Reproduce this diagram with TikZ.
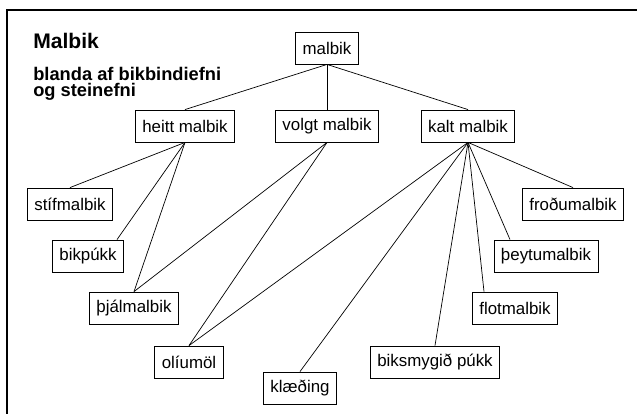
\documentclass[tikz,border=0pt]{standalone}
\usepackage{fontspec}
\setmainfont{Liberation Sans}
\usetikzlibrary{calc}
\tikzset{
  box/.style={draw, line width=0.6pt, minimum height=0.8cm, inner xsep=5pt, font=\fontsize{12}{14}\selectfont},
  link/.style={line width=0.5pt}
}
\begin{document}
\begin{tikzpicture}[x=0.025cm, y=-0.025cm]
  \useasboundingbox (0,0) rectangle (637,414);
  % Frame
  \draw[line width=1.2pt] (637,10) -- (7,10) -- (7,414);

  % Title
  \node[anchor=base west, inner sep=0pt, font=\bfseries\fontsize{15}{17}\selectfont] (title) at (33,48) {Malbik};
  \node[anchor=north west, inner sep=0pt, align=left, font=\bfseries\fontsize{13}{11.5}\selectfont] (subtitle) at (33,67) {blanda af bikbindiefni\\og steinefni};

  % Tree
  \node[box] (malbik) at (327,48) {malbik};
  \node[box] (heitt) at (185,126) {heitt malbik};
  \node[box] (volgt) at (327,126) {volgt malbik};
  \node[box] (kalt) at (468,126) {kalt malbik};

  \node[box] (stif) at (70,204) {stífmalbik};
  \node[box] (bikpukk) at (88,256) {bikpúkk};
  \node[box] (thjal) at (134,308) {þjálmalbik};
  \node[box] (oliumol) at (189,362) {olíumöl};
  \node[box] (klaeding) at (300,388) {klæðing};
  \node[box] (biksmygid) at (435,362) {biksmygið púkk};
  \node[box] (flot) at (515,308) {flotmalbik};
  \node[box] (theytu) at (546,256) {þeytumalbik};
  \node[box] (frodu) at (573,204) {froðumalbik};

  % Links
  \draw[link] (malbik.south) -- (heitt.north);
  \draw[link] (malbik.south) -- (volgt.north);
  \draw[link] (malbik.south) -- (kalt.north);

  \draw[link] (heitt.south) -- (stif.north);
  \draw[link] (heitt.south) -- ($(bikpukk.north)+(29,0)$);
  \draw[link] (heitt.south) -- (thjal.north);

  \draw[link] (volgt.south) -- (thjal.north);
  \draw[link] (volgt.south) -- (oliumol.north);

  \draw[link] (kalt.south) -- (oliumol.north);
  \draw[link] (kalt.south) -- (klaeding.north);
  \draw[link] (kalt.south) -- (biksmygid.north);
  \draw[link] (kalt.south) -- ($(flot.north)+(-31,0)$);
  \draw[link] (kalt.south) -- ($(theytu.north)+(-36,0)$);
  \draw[link] (kalt.south) -- (frodu.north);
\end{tikzpicture}
\end{document}
